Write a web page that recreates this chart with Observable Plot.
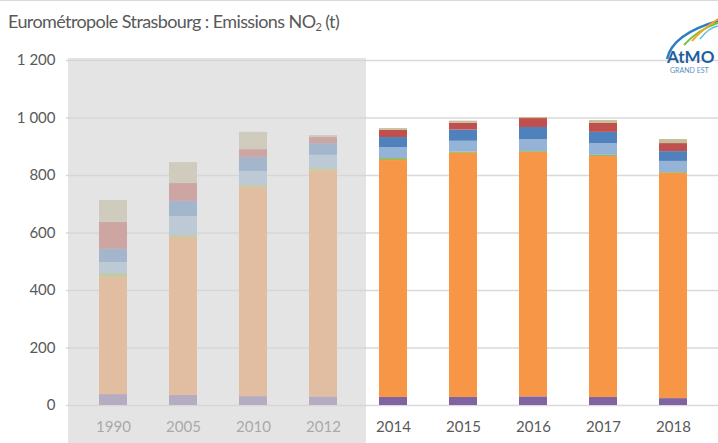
<!DOCTYPE html>
<html><head><meta charset="utf-8">
<script src="https://cdn.jsdelivr.net/npm/d3@7"></script>
<script src="https://cdn.jsdelivr.net/npm/@observablehq/plot@0.6"></script>
<style>
body{margin:0;background:#fff;}
#wrap{position:relative;width:718px;height:443px;overflow:hidden;border-top:1px solid #d9d9d9;box-sizing:border-box;font-family:Lato,"Open Sans",sans-serif;}
#title{position:absolute;left:8px;top:9px;font-size:18px;letter-spacing:-0.6px;color:#595959;white-space:nowrap;}
#title sub{font-size:11px;vertical-align:-3px;line-height:0;}
#chart{position:absolute;left:0;top:43px;}
#logo{position:absolute;left:0;top:0;}
</style></head><body>
<div id="wrap">
<div id="title">Eurométropole Strasbourg : Emissions NO<sub>2</sub> (t)</div>
<div id="chart"></div>
<svg id="logo" width="718" height="80">
  <path d="M667,58 C671,40 690,28 718,20" fill="none" stroke="#2a7fc0" stroke-width="2.5"/>
  <path d="M684,44 C695,32 706,26 718,22" fill="none" stroke="#7cc242" stroke-width="2"/>
  <path d="M692,40 C700,30 709,24 718,18" fill="none" stroke="#f5a623" stroke-width="2"/>
  <path d="M700,38 C706,30 712,26 718,25" fill="none" stroke="#5bc0de" stroke-width="1.5"/>
  <text x="667" y="62" font-family="Lato,sans-serif" font-weight="bold" font-size="17" fill="#1f5f9f">AtMO</text>
  <text x="670" y="72" font-family="Lato,sans-serif" font-size="7" fill="#5a8fc0">GRAND EST</text>
</svg>
</div>
<script>
const years = ["1990","2005","2010","2012","2014","2015","2016","2017","2018"];
const historicYears = ["1990","2005","2010","2012"];
const sectors = ["Agriculture","Transport routier","Autres transports","Résidentiel","Tertiaire","Industrie","Branche énergie"];
const sectorColors = ["#8064A2","#F79646","#9BBB59","#95B3D7","#4F81BD","#C0504D","#C4BD97"];
const agriculture      = [38, 35, 31, 30, 28, 28, 30, 28, 24];
const transportRoutier = [407, 549, 727, 787, 824, 849, 850, 838, 783];
const autresTransports = [14, 7, 7, 7, 7, 4, 3, 4, 3];
const residentiel      = [38, 66, 49, 46, 38, 38, 42, 41, 39];
const tertiaire        = [46, 53, 49, 41, 35, 39, 42, 39, 34];
const industrie        = [94, 62, 27, 21, 25, 24, 31, 31, 28];
const brancheEnergie   = [76, 73, 60, 7, 6, 7, 4, 10, 14];
const yTicks = [0, 200, 400, 600, 800, 1000, 1200];

const series = [agriculture, transportRoutier, autresTransports, residentiel, tertiaire, industrie, brancheEnergie];
const data = [];
years.forEach((yr, i) => sectors.forEach((s, j) => data.push({year: yr, sector: s, value: series[j][i]})));

const fmt = d => d3.format(",")(d).replace(/,/g, " ");
const H = 399, MT = 16, MB = 38;
const plot = Plot.plot({
  width: 718, height: H,
  marginTop: MT, marginBottom: MB, marginLeft: 66, marginRight: 0,
  style: {fontFamily: "Lato, 'Open Sans', sans-serif", fontSize: "15px", color: "#595959", background: "transparent"},
  x: {domain: years, range: [75, 710], paddingInner: 0.6, paddingOuter: 0.3, label: null, tickSize: 0, tickPadding: 16},
  y: {domain: [0, 1200], ticks: yTicks, label: null, tickSize: 0, tickPadding: 11, tickFormat: fmt},
  color: {domain: sectors, range: sectorColors},
  marks: [
    Plot.ruleY(yTicks, {stroke: "#d9d9d9", strokeWidth: 1.4}),
    Plot.barY(data, {x: "year", y: "value", fill: "sector"})
  ]
});
document.getElementById("chart").appendChild(plot);

// grey veil over the historic years
const xs = plot.scale("x");
const left = xs.range[0] - 7;
const right = xs.apply("2014") - 13;
d3.select(plot).append("rect")
  .attr("x", left).attr("y", MT - 2)
  .attr("width", right - left).attr("height", H - MT + 2)
  .attr("fill", "#d5d5d5").attr("fill-opacity", 0.64);
</script>
</body></html>
